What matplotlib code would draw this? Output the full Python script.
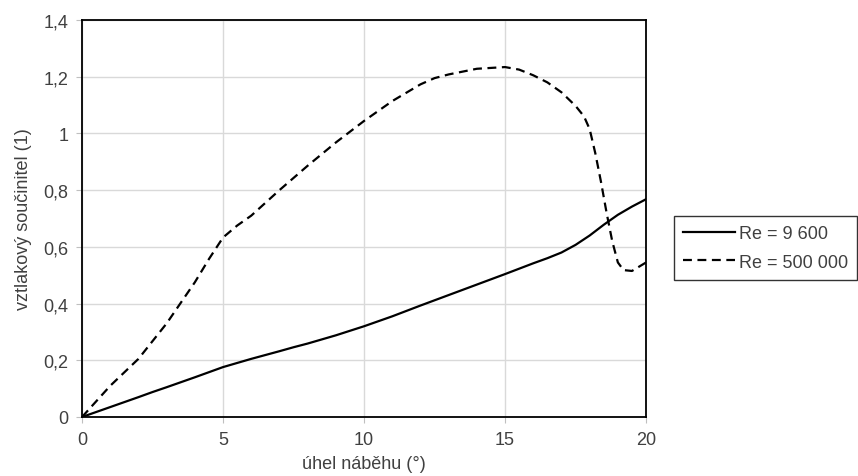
import numpy as np
import matplotlib.pyplot as plt

plt.rcParams['font.family'] = ['Liberation Sans', 'DejaVu Sans']

# angle of attack (deg) and lift coefficient
alpha_low = [0, 1, 2, 2.5, 3, 4, 5, 6, 7, 7.5, 8, 9, 10, 11, 12, 13, 14, 15, 16, 16.5, 17, 17.5,
             18, 18.5, 19, 19.5, 20]
cl_low = [0, 0.035, 0.07, 0.088, 0.105, 0.14, 0.176, 0.205, 0.232, 0.246, 0.259, 0.288, 0.32, 0.355,
          0.393, 0.43, 0.467, 0.504, 0.542, 0.56, 0.58, 0.607, 0.64, 0.678, 0.713, 0.742, 0.768]

alpha_high = [0, 1, 2, 3, 4, 4.5, 5, 5.5, 6, 7, 8, 9, 10, 11, 12, 12.5, 13, 14, 15, 15.5, 16, 16.5,
              17, 17.5, 17.8, 18, 18.2, 18.4, 18.6, 18.8, 19, 19.2, 19.5, 20]
cl_high = [0, 0.11, 0.205, 0.33, 0.475, 0.557, 0.633, 0.675, 0.71, 0.80, 0.886, 0.968, 1.044, 1.114,
           1.173, 1.195, 1.208, 1.228, 1.234, 1.225, 1.205, 1.18, 1.145, 1.097, 1.06, 1.015, 0.93,
           0.83, 0.72, 0.62, 0.545, 0.518, 0.515, 0.545]

fig = plt.figure(figsize=(8.58, 4.77), dpi=100)
ax = fig.add_axes([0.0956, 0.1237, 0.6574, 0.8323])

ax.plot(alpha_low, cl_low, '-', color='black', linewidth=1.6, label='Re = 9 600')
ax.plot(alpha_high, cl_high, color='black', linewidth=1.6, linestyle=(0, (4, 2.5)),
        label='Re = 500 000')

ax.set_xlim(0, 20)
ax.set_ylim(0, 1.4)
ax.set_xticks([0, 5, 10, 15, 20])
ax.set_yticks(np.arange(0, 1.41, 0.2))
ax.set_yticklabels(['0', '0,2', '0,4', '0,6', '0,8', '1', '1,2', '1,4'])
ax.grid(True, color='#d9d9d9', linewidth=1)
ax.set_axisbelow(True)
for s in ax.spines.values():
    s.set_linewidth(1.3)
ax.tick_params(axis='both', length=4, color='#bfbfbf', labelsize=13, labelcolor='#404040', pad=6)

ax.set_xlabel('úhel náběhu (°)', fontsize=13, color='#404040', labelpad=5)
ax.set_ylabel('vztlakový součinitel (1)', fontsize=13, color='#404040', labelpad=8)

leg = fig.legend(loc='upper left', bbox_to_anchor=(674 / 858, 1 - 217 / 477), borderaxespad=0,
                 fontsize=13, frameon=True, fancybox=False, edgecolor='black', handlelength=2.9,
                 labelcolor='#404040', borderpad=0.5, labelspacing=0.65, handletextpad=0.2)
leg.get_frame().set_linewidth(1.0)

fig.savefig('out.png', dpi=100)
